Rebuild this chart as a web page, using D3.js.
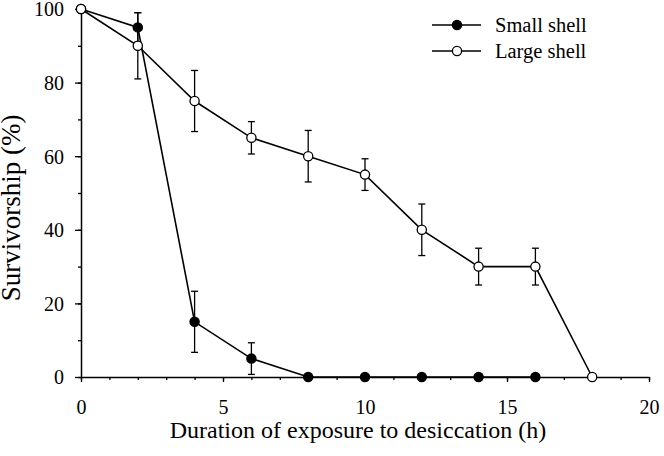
<!DOCTYPE html>
<html>
<head>
<meta charset="utf-8">
<script src="https://cdn.jsdelivr.net/npm/d3@7"></script>
<style>
  body { margin: 0; background: #fff; }
</style>
</head>
<body>
<div class="chart"></div>
<script>
// hours of exposure
const hoursSmall = [0, 2, 4, 6, 8, 10, 12, 14, 16];
const smallShell = [100, 95, 15, 5, 0, 0, 0, 0, 0];
const smallErr = [0, 4, 8.3, 4.3, 0, 0, 0, 0, 0];

const hoursLarge = [0, 2, 4, 6, 8, 10, 12, 14, 16, 18];
const largeShell = [100, 90, 75, 65, 60, 55, 40, 30, 30, 0];
const largeErr = [0, 9, 8.3, 4.4, 7, 4.3, 7, 5, 5, 0];

const xTicks = [0, 5, 10, 15, 20];
const yTicks = [0, 20, 40, 60, 80, 100];
const seriesNames = ["Small shell", "Large shell"];

const serif = "'Liberation Serif'";

const width = 664;
const height = 456;
const margin = { top: 9, right: 15, bottom: 79, left: 81 };

const svg = d3.select(".chart").append("svg")
  .attr("width", width)
  .attr("height", height);

const x = d3.scaleLinear().domain([0, 20]).range([margin.left, width - margin.right]);
const y = d3.scaleLinear().domain([0, 100]).range([height - margin.bottom, margin.top]);

// minor ticks first, then the major ones
svg.append("g")
  .attr("transform", `translate(0,${y(0)})`)
  .call(d3.axisBottom(x).tickValues(d3.range(0, 21, 1)).tickSize(3).tickFormat(""))
  .call(g => g.select(".domain").remove())
  .selectAll("line").attr("stroke-width", 1.3);

svg.append("g")
  .attr("transform", `translate(${x(0)},0)`)
  .call(d3.axisLeft(y).tickValues(d3.range(0, 101, 10)).tickSize(3).tickFormat(""))
  .call(g => g.select(".domain").remove())
  .selectAll("line").attr("stroke-width", 1.3);

const xAxis = svg.append("g")
  .attr("transform", `translate(0,${y(0)})`)
  .call(d3.axisBottom(x).tickValues(xTicks).tickSize(5).tickSizeOuter(0).tickPadding(18));
xAxis.select(".domain").attr("stroke-width", 1.5);
xAxis.selectAll("line").attr("stroke-width", 1.3);
xAxis.selectAll("text").style("font-family", serif).style("font-size", "20px");

const yAxis = svg.append("g")
  .attr("transform", `translate(${x(0)},0)`)
  .call(d3.axisLeft(y).tickValues(yTicks).tickSize(6).tickSizeOuter(0).tickPadding(11));
yAxis.select(".domain").attr("stroke-width", 1.5);
yAxis.selectAll("line").attr("stroke-width", 1.3);
yAxis.selectAll("text").attr("dy", "0.34em")
  .style("font-family", serif).style("font-size", "20px");

svg.append("text")
  .attr("x", 358)
  .attr("y", 438)
  .attr("text-anchor", "middle")
  .style("font-family", serif)
  .style("font-size", "24px")
  .text("Duration of exposure to desiccation (h)");

svg.append("text")
  .attr("transform", "translate(20,208) rotate(-90)")
  .attr("text-anchor", "middle")
  .style("font-family", serif)
  .style("font-size", "27px")
  .text("Survivorship (%)");

const line = d3.line().x(d => x(d.h)).y(d => y(d.v));

function drawSeries(hours, values, errs, fill) {
  const pts = hours.map((h, i) => ({ h, v: values[i], e: errs[i] }));
  const g = svg.append("g");
  const bars = g.selectAll("g.err").data(pts.filter(d => d.e > 0)).enter().append("g");
  bars.append("line")
    .attr("x1", d => x(d.h)).attr("x2", d => x(d.h))
    .attr("y1", d => y(d.v - d.e)).attr("y2", d => y(d.v + d.e))
    .attr("stroke", "#000").attr("stroke-width", 1.3);
  [-1, 1].forEach(s => {
    bars.append("line")
      .attr("x1", d => x(d.h) - 3.5).attr("x2", d => x(d.h) + 3.5)
      .attr("y1", d => y(d.v + s * d.e)).attr("y2", d => y(d.v + s * d.e))
      .attr("stroke", "#000").attr("stroke-width", 1.3);
  });
  g.append("path")
    .datum(pts)
    .attr("d", line)
    .attr("fill", "none")
    .attr("stroke", "#000")
    .attr("stroke-width", 1.6);
  g.selectAll("circle").data(pts).enter().append("circle")
    .attr("cx", d => x(d.h)).attr("cy", d => y(d.v))
    .attr("r", 4.6)
    .attr("fill", fill)
    .attr("stroke", "#000")
    .attr("stroke-width", 1.3);
}

drawSeries(hoursSmall, smallShell, smallErr, "#000");
drawSeries(hoursLarge, largeShell, largeErr, "#fff");

// legend
const legend = svg.append("g");
seriesNames.forEach((name, i) => {
  const ly = 25 + i * 26;
  legend.append("line")
    .attr("x1", 432).attr("x2", 481).attr("y1", ly).attr("y2", ly)
    .attr("stroke", "#000").attr("stroke-width", 1.6);
  legend.append("circle")
    .attr("cx", 457).attr("cy", ly).attr("r", 4.6)
    .attr("fill", i === 0 ? "#000" : "#fff")
    .attr("stroke", "#000").attr("stroke-width", 1.3);
  legend.append("text")
    .attr("x", 495).attr("y", ly)
    .attr("dy", "0.33em")
    .style("font-family", serif)
    .style("font-size", "20.5px")
    .text(name);
});
</script>
</body>
</html>
